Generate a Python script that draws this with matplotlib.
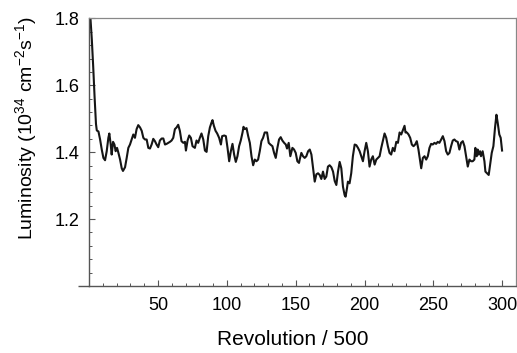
import matplotlib
matplotlib.use("Agg")
import matplotlib.pyplot as plt
from matplotlib.ticker import MultipleLocator

plt.rcParams["font.family"] = ["Liberation Sans", "DejaVu Sans"]
plt.rcParams["mathtext.fontset"] = "custom"
plt.rcParams["mathtext.rm"] = "Liberation Sans"
plt.rcParams["mathtext.default"] = "regular"

# luminosity trace (revolution / 500, 1e34 cm^-2 s^-1)
revolution = [
    1.0, 2.0, 3.0, 4.0, 5.0, 5.6, 6.8, 8.0, 9.2, 10.4, 11.6, 12.8, 14.0, 14.7,
    15.7, 16.4, 17.4, 18.4, 19.3, 20.3, 21.3, 22.5, 23.7, 24.6, 26.1, 27.3,
    28.5, 29.7, 30.9, 32.1, 33.3, 34.5, 35.7, 37.0, 38.2, 39.4, 40.6, 41.8,
    43.0, 44.2, 45.4, 46.6, 47.8, 49.0, 50.2, 51.4, 52.7, 53.9, 55.1, 56.3,
    57.5, 58.7, 59.9, 61.1, 62.3, 63.5, 64.7, 65.9, 67.1, 68.4, 69.6, 70.3,
    71.5, 72.7, 73.9, 75.1, 76.8, 78.0, 79.2, 80.4, 81.6, 82.9, 84.1, 85.3,
    86.5, 87.7, 88.9, 89.6, 90.6, 91.8, 93.0, 94.4, 95.7, 96.6, 98.1, 99.3,
    100.5, 101.7, 102.9, 104.1, 105.3, 106.5, 107.7, 108.9, 110.1, 111.4,
    112.1, 113.1, 114.3, 115.5, 116.7, 117.9, 119.1, 120.3, 121.5, 122.7,
    123.9, 125.1, 126.3, 127.5, 129.2, 130.4, 131.6, 133.1, 134.3, 135.5,
    136.7, 137.9, 139.1, 140.3, 141.6, 142.8, 143.7, 144.9, 146.1, 147.6,
    148.8, 150.0, 151.2, 152.4, 152.9, 154.1, 155.3, 156.5, 157.7, 159.0,
    160.2, 161.4, 162.6, 163.8, 165.0, 166.2, 167.4, 168.6, 169.8, 171.0,
    172.2, 173.4, 174.6, 175.9, 177.1, 178.3, 179.5, 180.7, 181.9, 183.1,
    184.3, 185.5, 186.2, 187.2, 187.9, 189.1, 190.3, 191.5, 192.8, 194.0,
    195.2, 196.4, 197.6, 198.8, 200.0, 201.2, 202.4, 203.6, 204.8, 206.0,
    207.3, 208.5, 209.7, 210.9, 212.1, 213.3, 214.5, 215.7, 216.9, 218.1,
    219.3, 220.5, 221.7, 223.0, 224.2, 225.4, 226.6, 227.8, 229.0, 229.7,
    230.7, 231.9, 233.1, 234.3, 235.5, 236.7, 237.9, 239.1, 240.3, 241.1,
    242.3, 243.5, 244.7, 245.9, 247.1, 248.3, 249.5, 250.7, 251.9, 253.1,
    254.3, 255.6, 256.8, 258.0, 259.2, 260.4, 261.6, 262.8, 264.0, 265.2,
    266.4, 267.6, 268.8, 270.0, 271.3, 272.5, 273.7, 274.9, 276.1, 277.3,
    278.5, 279.7, 280.4, 281.4, 282.1, 282.8, 283.8, 284.5, 285.7, 287.0,
    287.7, 288.9, 290.1, 291.3, 292.3, 293.5, 294.7, 295.7, 296.6, 297.8,
    298.8, 299.8,
]
luminosity = [
    1.800, 1.736, 1.655, 1.565, 1.485, 1.465, 1.462, 1.438, 1.408, 1.383,
    1.376, 1.403, 1.443, 1.456, 1.423, 1.393, 1.431, 1.423, 1.403, 1.413,
    1.398, 1.378, 1.352, 1.344, 1.355, 1.383, 1.413, 1.423, 1.438, 1.453,
    1.443, 1.469, 1.481, 1.474, 1.464, 1.443, 1.438, 1.438, 1.413, 1.411,
    1.423, 1.440, 1.433, 1.423, 1.415, 1.435, 1.441, 1.441, 1.423, 1.425,
    1.428, 1.431, 1.435, 1.443, 1.469, 1.474, 1.482, 1.464, 1.433, 1.428,
    1.431, 1.405, 1.435, 1.450, 1.443, 1.418, 1.413, 1.435, 1.428, 1.443,
    1.456, 1.438, 1.405, 1.401, 1.448, 1.474, 1.489, 1.496, 1.479, 1.464,
    1.456, 1.443, 1.423, 1.448, 1.450, 1.448, 1.413, 1.373, 1.403, 1.425,
    1.393, 1.371, 1.388, 1.418, 1.435, 1.459, 1.476, 1.469, 1.472, 1.448,
    1.428, 1.388, 1.361, 1.378, 1.373, 1.378, 1.403, 1.433, 1.443, 1.459,
    1.459, 1.428, 1.423, 1.418, 1.398, 1.383, 1.413, 1.438, 1.445, 1.435,
    1.428, 1.423, 1.411, 1.428, 1.388, 1.413, 1.408, 1.398, 1.373, 1.368,
    1.378, 1.398, 1.388, 1.383, 1.388, 1.403, 1.408, 1.393, 1.352, 1.312,
    1.334, 1.337, 1.332, 1.320, 1.342, 1.320, 1.327, 1.357, 1.361, 1.355,
    1.342, 1.314, 1.302, 1.342, 1.371, 1.352, 1.297, 1.272, 1.267, 1.292,
    1.312, 1.307, 1.337, 1.388, 1.423, 1.421, 1.413, 1.403, 1.388, 1.373,
    1.403, 1.428, 1.403, 1.357, 1.378, 1.388, 1.363, 1.378, 1.383, 1.388,
    1.413, 1.435, 1.456, 1.443, 1.418, 1.398, 1.393, 1.413, 1.403, 1.431,
    1.428, 1.459, 1.453, 1.466, 1.479, 1.459, 1.459, 1.453, 1.443, 1.423,
    1.418, 1.423, 1.433, 1.408, 1.373, 1.352, 1.383, 1.388, 1.378, 1.388,
    1.413, 1.425, 1.423, 1.428, 1.425, 1.431, 1.428, 1.438, 1.448, 1.433,
    1.403, 1.393, 1.398, 1.418, 1.435, 1.438, 1.433, 1.431, 1.408, 1.428,
    1.433, 1.418, 1.388, 1.357, 1.378, 1.373, 1.373, 1.378, 1.413, 1.388,
    1.408, 1.393, 1.403, 1.388, 1.403, 1.373, 1.342, 1.337, 1.332, 1.368,
    1.398, 1.418, 1.474, 1.512, 1.489, 1.453, 1.443, 1.405,
]

fig = plt.figure(figsize=(5.17, 3.53), dpi=100)
ax = fig.add_axes([0.1723, 0.1898, 0.826, 0.758])

ax.plot(revolution, luminosity, color="#151515", lw=1.5)

ax.set_xlim(0, 310)
ax.set_ylim(1.0, 1.8)
ax.xaxis.set_minor_locator(MultipleLocator(10))
ax.yaxis.set_minor_locator(MultipleLocator(0.04))
ax.set_xticks([50, 100, 150, 200, 250, 300])
ax.set_yticks([1.2, 1.4, 1.6, 1.8])

for side in ("bottom", "left"):
    ax.spines[side].set_color("#555555")
    ax.spines[side].set_linewidth(1.0)
for side in ("top", "right"):
    ax.spines[side].set_color("#888888")
    ax.spines[side].set_linewidth(0.9)

# x-axis line runs a little past the y-axis, as in the original
ax.plot([-8, 0], [1.0, 1.0], color="#555555", lw=1.0, clip_on=False,
        solid_capstyle="butt")

ax.tick_params(which="both", direction="in", color="#555555",
               labelsize=13, top=False, right=False)
ax.tick_params(which="major", length=4, width=0.8)
ax.tick_params(which="minor", length=2.5, width=0.7)
ax.tick_params(axis="x", pad=8)
ax.tick_params(axis="y", pad=7)

ax.set_xlabel("Revolution / 500", fontsize=15)
ax.set_ylabel("Luminosity (10$^{34}$ cm$^{-2}$s$^{-1}$)", fontsize=14)
ax.xaxis.set_label_coords(0.477, -0.165)
ax.yaxis.set_label_coords(-0.117, 0.588)

fig.savefig("out.png", dpi=100)
